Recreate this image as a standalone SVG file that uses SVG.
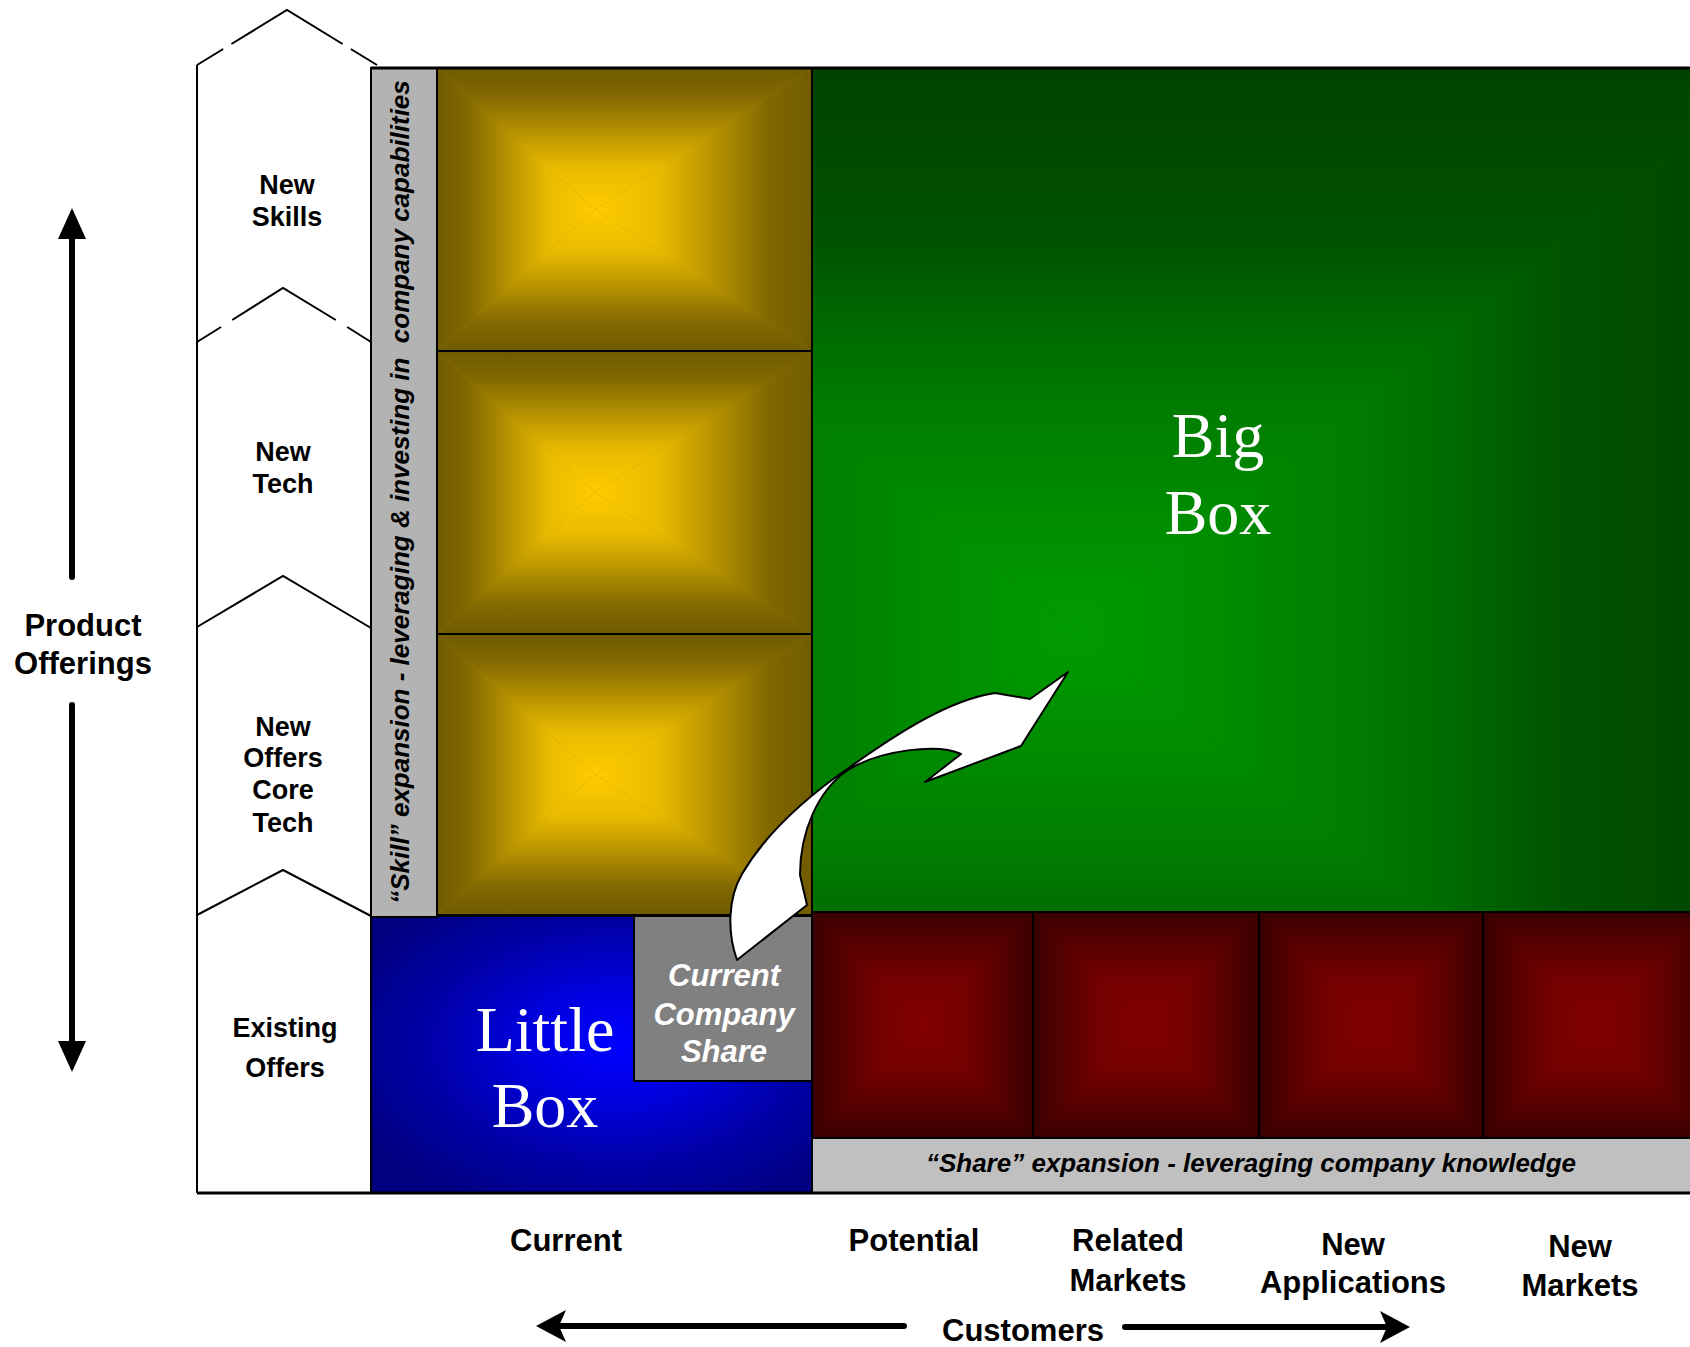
<svg xmlns="http://www.w3.org/2000/svg" width="1690" height="1347" viewBox="0 0 1690 1347">
<style>
.lbl{font-family:"Liberation Sans",Arial,sans-serif;font-weight:bold;fill:#000;text-anchor:middle}
.lblw{font-family:"Liberation Sans",Arial,sans-serif;font-weight:bold;font-style:italic;fill:#fff;text-anchor:middle}
.ital{font-family:"Liberation Sans",Arial,sans-serif;font-weight:bold;font-style:italic;fill:#000;text-anchor:middle}
.serif{font-family:"Liberation Serif","Times New Roman",serif;fill:#fff;text-anchor:middle;font-size:64px}
.ln{fill:none;stroke:#000;stroke-width:2}
.box{stroke:#000;stroke-width:2}
</style>
<defs>
  <linearGradient id="yT" x1="0" y1="0" x2="0" y2="1"><stop offset="0" stop-color="#715B00"/><stop offset="0.2" stop-color="#826800"/><stop offset="0.45" stop-color="#B69200"/><stop offset="0.7" stop-color="#E8BA00"/><stop offset="1" stop-color="#FFCC00"/></linearGradient>
  <linearGradient id="yB" x1="0" y1="1" x2="0" y2="0"><stop offset="0" stop-color="#715B00"/><stop offset="0.2" stop-color="#826800"/><stop offset="0.45" stop-color="#B69200"/><stop offset="0.7" stop-color="#E8BA00"/><stop offset="1" stop-color="#FFCC00"/></linearGradient>
  <linearGradient id="yL" x1="0" y1="0" x2="1" y2="0"><stop offset="0" stop-color="#715B00"/><stop offset="0.2" stop-color="#826800"/><stop offset="0.45" stop-color="#B69200"/><stop offset="0.7" stop-color="#E8BA00"/><stop offset="1" stop-color="#FFCC00"/></linearGradient>
  <linearGradient id="yR" x1="1" y1="0" x2="0" y2="0"><stop offset="0" stop-color="#715B00"/><stop offset="0.2" stop-color="#826800"/><stop offset="0.45" stop-color="#B69200"/><stop offset="0.7" stop-color="#E8BA00"/><stop offset="1" stop-color="#FFCC00"/></linearGradient>
  <linearGradient id="rT" x1="0" y1="0" x2="0" y2="1"><stop offset="0" stop-color="#380000"/><stop offset="0.3" stop-color="#580000"/><stop offset="0.6" stop-color="#740000"/><stop offset="1" stop-color="#840000"/></linearGradient>
  <linearGradient id="rB" x1="0" y1="1" x2="0" y2="0"><stop offset="0" stop-color="#380000"/><stop offset="0.3" stop-color="#580000"/><stop offset="0.6" stop-color="#740000"/><stop offset="1" stop-color="#840000"/></linearGradient>
  <linearGradient id="rL" x1="0" y1="0" x2="1" y2="0"><stop offset="0" stop-color="#380000"/><stop offset="0.3" stop-color="#580000"/><stop offset="0.6" stop-color="#740000"/><stop offset="1" stop-color="#840000"/></linearGradient>
  <linearGradient id="rR" x1="1" y1="0" x2="0" y2="0"><stop offset="0" stop-color="#380000"/><stop offset="0.3" stop-color="#580000"/><stop offset="0.6" stop-color="#740000"/><stop offset="1" stop-color="#840000"/></linearGradient>
  <linearGradient id="gT" gradientUnits="userSpaceOnUse" x1="0" y1="68" x2="0" y2="630"><stop offset="0" stop-color="#004200"/><stop offset="0.3" stop-color="#005200"/><stop offset="0.6" stop-color="#007C00"/><stop offset="1" stop-color="#009C00"/></linearGradient>
  <linearGradient id="gB" gradientUnits="userSpaceOnUse" x1="0" y1="1193" x2="0" y2="630"><stop offset="0" stop-color="#004200"/><stop offset="0.3" stop-color="#005200"/><stop offset="0.6" stop-color="#007C00"/><stop offset="1" stop-color="#009C00"/></linearGradient>
  <linearGradient id="gL" gradientUnits="userSpaceOnUse" x1="371" y1="0" x2="1075" y2="0"><stop offset="0" stop-color="#004200"/><stop offset="0.3" stop-color="#005200"/><stop offset="0.6" stop-color="#007C00"/><stop offset="1" stop-color="#009C00"/></linearGradient>
  <linearGradient id="gR" gradientUnits="userSpaceOnUse" x1="1779" y1="0" x2="1075" y2="0"><stop offset="0" stop-color="#004200"/><stop offset="0.3" stop-color="#005200"/><stop offset="0.6" stop-color="#007C00"/><stop offset="1" stop-color="#009C00"/></linearGradient>
  <radialGradient id="blue" cx="0.553" cy="0.466" r="0.65"><stop offset="0" stop-color="#0000FF"/><stop offset="0.3" stop-color="#0000E0"/><stop offset="0.65" stop-color="#0000A8"/><stop offset="1" stop-color="#000080"/></radialGradient>
  <clipPath id="greenClip"><rect x="812" y="68" width="878" height="844"/></clipPath>
</defs>

<rect x="0" y="0" width="1690" height="1347" fill="#fff"/>

<g id="offering-levels">
  <path class="ln" d="M197,65 L197,1193"/>
  <path class="ln" d="M197,65 L223.2,49 M231.4,44 L287,10 L342.6,44 M350.8,49 L377,65"/>
  <path class="ln" d="M197,342 L221,327 M232.2,320 L283,288 L335.8,320 M347.2,327 L371,342"/>
  <path class="ln" d="M197,627 L283,576 L371,628"/>
  <path class="ln" d="M197,915 L283,870 L371,916"/>
</g>
<g id="level-new-skills"><text class="lbl" font-size="27" x="287" y="194">New</text><text class="lbl" font-size="27" x="287" y="226">Skills</text></g>
<g id="level-new-tech"><text class="lbl" font-size="27" x="283" y="461">New</text><text class="lbl" font-size="27" x="283" y="493">Tech</text></g>
<g id="level-new-offers"><text class="lbl" font-size="27" x="283" y="736">New</text><text class="lbl" font-size="27" x="283" y="767">Offers</text><text class="lbl" font-size="27" x="283" y="799">Core</text><text class="lbl" font-size="27" x="283" y="832">Tech</text></g>
<g id="level-existing"><text class="lbl" font-size="27" x="285" y="1037">Existing</text><text class="lbl" font-size="27" x="285" y="1077">Offers</text></g>

<g id="big-box">
  <g clip-path="url(#greenClip)">
    <rect x="812" y="68" width="878" height="844" fill="#006A00"/>
    <polygon points="371,68 1779,68 1075,630" fill="url(#gT)"/>
    <polygon points="1779,68 1779,1193 1075,630" fill="url(#gR)"/>
    <polygon points="1779,1193 371,1193 1075,630" fill="url(#gB)"/>
    <polygon points="371,1193 371,68 1075,630" fill="url(#gL)"/>
  </g>
  <rect class="box" x="812" y="68" width="890" height="844" fill="none"/>
  <text class="serif" x="1218" y="457">Big</text>
  <text class="serif" x="1218" y="534">Box</text>
</g>

<g id="skill-box-1">
  <rect x="437" y="68" width="375" height="283" fill="#A08000"/>
  <polygon points="437,68 812,68 595,209.5" fill="url(#yT)"/>
  <polygon points="812,68 812,351 595,209.5" fill="url(#yR)"/>
  <polygon points="812,351 437,351 595,209.5" fill="url(#yB)"/>
  <polygon points="437,351 437,68 595,209.5" fill="url(#yL)"/>
  <rect class="box" x="437" y="68" width="375" height="283" fill="none"/>
</g>
<g id="skill-box-2">
  <rect x="437" y="351" width="375" height="283" fill="#A08000"/>
  <polygon points="437,351 812,351 595,492.5" fill="url(#yT)"/>
  <polygon points="812,351 812,634 595,492.5" fill="url(#yR)"/>
  <polygon points="812,634 437,634 595,492.5" fill="url(#yB)"/>
  <polygon points="437,634 437,351 595,492.5" fill="url(#yL)"/>
  <rect class="box" x="437" y="351" width="375" height="283" fill="none"/>
</g>
<g id="skill-box-3">
  <rect x="437" y="634" width="375" height="281" fill="#A08000"/>
  <polygon points="437,634 812,634 595,774.5" fill="url(#yT)"/>
  <polygon points="812,634 812,915 595,774.5" fill="url(#yR)"/>
  <polygon points="812,915 437,915 595,774.5" fill="url(#yB)"/>
  <polygon points="437,915 437,634 595,774.5" fill="url(#yL)"/>
  <rect class="box" x="437" y="634" width="375" height="281" fill="none"/>
</g>

<g id="share-box-1">
  <rect x="812" y="912" width="221" height="226" fill="#5A0000"/>
  <polygon points="812,912 1033,912 922.5,1025" fill="url(#rT)"/>
  <polygon points="1033,912 1033,1138 922.5,1025" fill="url(#rR)"/>
  <polygon points="1033,1138 812,1138 922.5,1025" fill="url(#rB)"/>
  <polygon points="812,1138 812,912 922.5,1025" fill="url(#rL)"/>
  <rect class="box" x="812" y="912" width="221" height="226" fill="none"/>
</g>
<g id="share-box-2">
  <rect x="1033" y="912" width="226" height="226" fill="#5A0000"/>
  <polygon points="1033,912 1259,912 1146,1025" fill="url(#rT)"/>
  <polygon points="1259,912 1259,1138 1146,1025" fill="url(#rR)"/>
  <polygon points="1259,1138 1033,1138 1146,1025" fill="url(#rB)"/>
  <polygon points="1033,1138 1033,912 1146,1025" fill="url(#rL)"/>
  <rect class="box" x="1033" y="912" width="226" height="226" fill="none"/>
</g>
<g id="share-box-3">
  <rect x="1259" y="912" width="224" height="226" fill="#5A0000"/>
  <polygon points="1259,912 1483,912 1371,1025" fill="url(#rT)"/>
  <polygon points="1483,912 1483,1138 1371,1025" fill="url(#rR)"/>
  <polygon points="1483,1138 1259,1138 1371,1025" fill="url(#rB)"/>
  <polygon points="1259,1138 1259,912 1371,1025" fill="url(#rL)"/>
  <rect class="box" x="1259" y="912" width="224" height="226" fill="none"/>
</g>
<g id="share-box-4">
  <rect x="1483" y="912" width="224" height="226" fill="#5A0000"/>
  <polygon points="1483,912 1707,912 1595,1025" fill="url(#rT)"/>
  <polygon points="1707,912 1707,1138 1595,1025" fill="url(#rR)"/>
  <polygon points="1707,1138 1483,1138 1595,1025" fill="url(#rB)"/>
  <polygon points="1483,1138 1483,912 1595,1025" fill="url(#rL)"/>
  <rect class="box" x="1483" y="912" width="224" height="226" fill="none"/>
</g>

<g id="share-strip">
  <rect class="box" x="812" y="1138" width="890" height="55" fill="#C0C0C0"/>
  <text class="ital" font-size="26" x="1251" y="1172">“Share” expansion - leveraging company knowledge</text>
</g>

<g id="little-box">
  <rect class="box" x="371" y="916" width="441" height="277" fill="url(#blue)"/>
  <text class="serif" x="545" y="1051">Little</text>
  <text class="serif" x="545" y="1127">Box</text>
</g>

<g id="skill-strip">
  <rect class="box" x="371" y="68" width="66" height="849" fill="#B3B3B3"/>
  <text class="ital" font-size="26" transform="translate(409,492) rotate(-90)">“Skill” expansion - leveraging &amp; investing in&#160; company capabilities</text>
</g>

<g id="current-share">
  <rect class="box" x="634" y="916" width="178" height="165" fill="#808080"/>
  <text class="lblw" font-size="31" x="724" y="986">Current</text>
  <text class="lblw" font-size="31" x="724" y="1025">Company</text>
  <text class="lblw" font-size="31" x="724" y="1062">Share</text>
</g>

<g id="frame">
  <path d="M371,68 L1690,68" stroke="#000" stroke-width="3" fill="none"/>
  <path d="M197,1193 L1690,1193" stroke="#000" stroke-width="3" fill="none"/>
</g>

<g id="product-offerings-axis">
  <text class="lbl" font-size="31" x="83" y="636">Product</text>
  <text class="lbl" font-size="31" x="83" y="674">Offerings</text>
</g>
<g id="customer-labels">
  <text class="lbl" font-size="31" x="566" y="1251">Current</text>
  <text class="lbl" font-size="31" x="914" y="1251">Potential</text>
  <text class="lbl" font-size="31" x="1128" y="1251">Related</text>
  <text class="lbl" font-size="31" x="1128" y="1291">Markets</text>
  <text class="lbl" font-size="31" x="1353" y="1255">New</text>
  <text class="lbl" font-size="31" x="1353" y="1293">Applications</text>
  <text class="lbl" font-size="31" x="1580" y="1257">New</text>
  <text class="lbl" font-size="31" x="1580" y="1296">Markets</text>
  <text class="lbl" font-size="31" x="1023" y="1341">Customers</text>
</g>

<g id="connectors">
  <path d="M72,236 L72,577" stroke="#000" stroke-width="6" stroke-linecap="round" fill="none"/>
  <polygon points="72,208 86,239 58,239" fill="#000"/>
  <path d="M72,705 L72,1044" stroke="#000" stroke-width="6" stroke-linecap="round" fill="none"/>
  <polygon points="72,1072 86,1041 58,1041" fill="#000"/>
  <path d="M560,1326 L904,1326" stroke="#000" stroke-width="6" stroke-linecap="round" fill="none"/>
  <polygon points="536,1326 566,1310 559,1326 566,1342" fill="#000"/>
  <path d="M1125,1327 L1386,1327" stroke="#000" stroke-width="6" stroke-linecap="round" fill="none"/>
  <polygon points="1410,1327 1380,1311 1387,1327 1380,1343" fill="#000"/>
  <path id="growth-arrow" d="M737,960 C727,932 728,898 742,874 C765,835 805,798 850,767 C895,735 948,700 995,693 L1030,699 L1068,672 L1021,746 L925,782 L961,754 C938,743 880,750 848,770 C818,790 800,832 800,875 L807,905 Z" fill="#fff" stroke="#000" stroke-width="2" stroke-linejoin="round"/>
</g>
</svg>
